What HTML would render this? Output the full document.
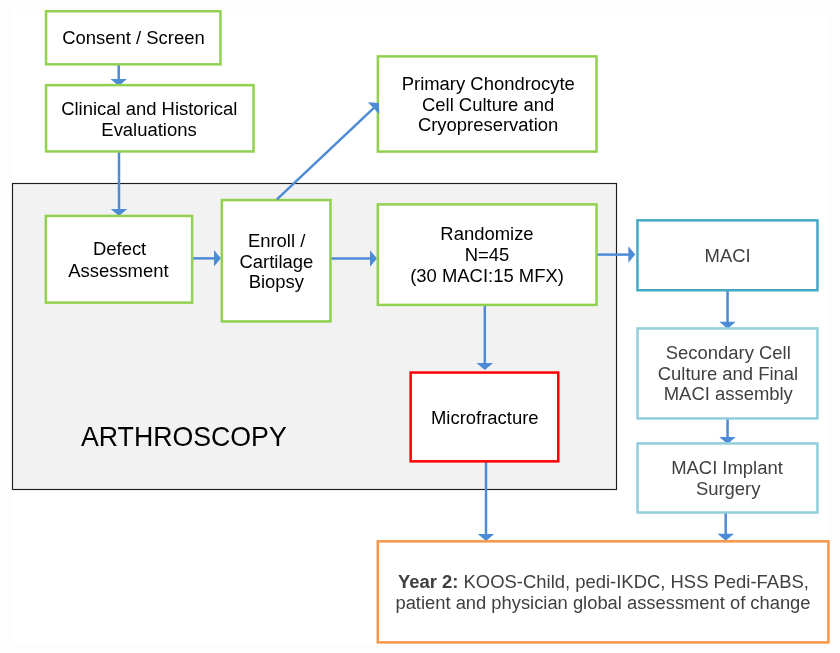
<!DOCTYPE html>
<html><head><meta charset="utf-8"><title>Study flow</title>
<style>html,body{margin:0;padding:0;background:#fff;} svg{display:block;will-change:transform;} text{font-family:"Liberation Sans",sans-serif;}</style>
</head><body><svg width="840" height="653" viewBox="0 0 840 653" font-family="Liberation Sans, sans-serif"><rect x="0" y="0" width="840" height="653" fill="#FDFDFD"/><rect x="12" y="10" width="818.3" height="634.3" fill="#FFFFFF"/><rect x="12.5" y="183.5" width="604" height="306" fill="#F2F2F2" stroke="#1E1E1E" stroke-width="1.15"/><line x1="118.70" y1="64.00" x2="118.70" y2="79.40" stroke="#4E8BD6" stroke-width="2.5"/><polygon points="118.70,85.90 110.45,78.90 126.95,78.90" fill="#4E8BD6"/><line x1="119.00" y1="151.00" x2="119.00" y2="209.40" stroke="#4E8BD6" stroke-width="2.5"/><polygon points="119.00,215.90 110.75,208.90 127.25,208.90" fill="#4E8BD6"/><line x1="192.00" y1="258.35" x2="214.50" y2="258.35" stroke="#4E8BD6" stroke-width="2.5"/><polygon points="221.00,258.35 214.00,266.60 214.00,250.10" fill="#4E8BD6"/><line x1="330.50" y1="258.50" x2="370.50" y2="258.50" stroke="#4E8BD6" stroke-width="2.5"/><polygon points="377.00,258.50 370.00,266.75 370.00,250.25" fill="#4E8BD6"/><line x1="597.00" y1="254.60" x2="628.80" y2="254.60" stroke="#4E8BD6" stroke-width="2.5"/><polygon points="635.30,254.60 628.30,262.85 628.30,246.35" fill="#4E8BD6"/><line x1="727.55" y1="290.00" x2="727.55" y2="322.30" stroke="#4E8BD6" stroke-width="2.5"/><polygon points="727.55,328.80 719.30,321.80 735.80,321.80" fill="#4E8BD6"/><line x1="727.55" y1="418.00" x2="727.55" y2="437.50" stroke="#4E8BD6" stroke-width="2.5"/><polygon points="727.55,444.00 719.30,437.00 735.80,437.00" fill="#4E8BD6"/><line x1="725.70" y1="513.00" x2="725.70" y2="534.30" stroke="#4E8BD6" stroke-width="2.5"/><polygon points="725.70,540.80 717.45,533.80 733.95,533.80" fill="#4E8BD6"/><line x1="484.80" y1="304.00" x2="484.80" y2="363.40" stroke="#4E8BD6" stroke-width="2.5"/><polygon points="484.80,369.90 476.55,362.90 493.05,362.90" fill="#4E8BD6"/><line x1="486.00" y1="461.00" x2="486.00" y2="534.40" stroke="#4E8BD6" stroke-width="2.5"/><polygon points="486.00,540.90 477.75,533.90 494.25,533.90" fill="#4E8BD6"/><rect x="46.05" y="11.25" width="174.40" height="53.10" fill="#FFFFFF" stroke="#92D050" stroke-width="2.5"/><rect x="46.05" y="85.15" width="207.50" height="66.30" fill="#FFFFFF" stroke="#92D050" stroke-width="2.5"/><rect x="45.85" y="215.95" width="146.30" height="86.65" fill="#FFFFFF" stroke="#92D050" stroke-width="2.5"/><rect x="221.85" y="200.05" width="108.60" height="121.40" fill="#FFFFFF" stroke="#92D050" stroke-width="2.5"/><rect x="377.85" y="56.40" width="218.65" height="95.15" fill="#FFFFFF" stroke="#92D050" stroke-width="2.5"/><rect x="377.80" y="204.40" width="218.70" height="100.50" fill="#FFFFFF" stroke="#92D050" stroke-width="2.5"/><rect x="637.45" y="220.35" width="180.00" height="69.90" fill="#FFFFFF" stroke="#45A8C5" stroke-width="2.5"/><rect x="637.55" y="328.45" width="179.90" height="90.00" fill="#FFFFFF" stroke="#92CDDC" stroke-width="2.5"/><rect x="637.55" y="443.45" width="179.90" height="69.05" fill="#FFFFFF" stroke="#92CDDC" stroke-width="2.5"/><rect x="410.65" y="372.55" width="147.60" height="88.80" fill="#FFFFFF" stroke="#FF0000" stroke-width="2.5"/><rect x="377.80" y="541.35" width="450.60" height="101.05" fill="#FFFFFF" stroke="#F79646" stroke-width="2.5"/><line x1="276.90" y1="199.40" x2="373.91" y2="107.81" stroke="#4E8BD6" stroke-width="2.5"/><polygon points="379.00,103.00 379.21,114.15 367.88,102.15" fill="#4E8BD6"/><text x="133.50" y="44.00" font-size="18.45" fill="#000000" text-anchor="middle">Consent / Screen</text><text x="149.30" y="115.40" font-size="18.45" fill="#000000" text-anchor="middle">Clinical and Historical</text><text x="149.00" y="136.40" font-size="18.45" fill="#000000" text-anchor="middle">Evaluations</text><text x="488.30" y="89.60" font-size="18.45" fill="#000000" text-anchor="middle">Primary Chondrocyte</text><text x="488.10" y="110.60" font-size="18.45" fill="#000000" text-anchor="middle">Cell Culture and</text><text x="488.10" y="131.10" font-size="18.45" fill="#000000" text-anchor="middle">Cryopreservation</text><text x="119.60" y="255.30" font-size="18.45" fill="#000000" text-anchor="middle">Defect</text><text x="118.40" y="276.50" font-size="18.45" fill="#000000" text-anchor="middle">Assessment</text><text x="276.60" y="247.00" font-size="18.45" fill="#000000" text-anchor="middle">Enroll /</text><text x="276.40" y="267.60" font-size="18.45" fill="#000000" text-anchor="middle">Cartilage</text><text x="276.40" y="288.30" font-size="18.45" fill="#000000" text-anchor="middle">Biopsy</text><text x="487.00" y="239.90" font-size="18.45" fill="#000000" text-anchor="middle">Randomize</text><text x="487.00" y="260.80" font-size="18.45" fill="#000000" text-anchor="middle">N=45</text><text x="487.00" y="282.00" font-size="18.45" fill="#000000" text-anchor="middle">(30 MACI:15 MFX)</text><text x="727.60" y="261.90" font-size="18.45" fill="#404040" text-anchor="middle">MACI</text><text x="728.30" y="358.60" font-size="18.45" fill="#404040" text-anchor="middle">Secondary Cell</text><text x="728.00" y="379.60" font-size="18.45" fill="#404040" text-anchor="middle">Culture and Final</text><text x="728.30" y="400.40" font-size="18.45" fill="#404040" text-anchor="middle">MACI assembly</text><text x="727.00" y="474.20" font-size="18.45" fill="#404040" text-anchor="middle">MACI Implant</text><text x="728.20" y="495.00" font-size="18.45" fill="#404040" text-anchor="middle">Surgery</text><text x="484.80" y="423.60" font-size="18.45" fill="#000000" text-anchor="middle">Microfracture</text><text transform="translate(81.00,445.80) scale(1,1.05)" x="0" y="0" font-size="26.72" fill="#000000" text-anchor="start">ARTHROSCOPY</text><text x="603.40" y="588.00" font-size="18.45" fill="#404040" text-anchor="middle"><tspan font-weight="bold">Year 2:</tspan> KOOS-Child, pedi-IKDC, HSS Pedi-FABS,</text><text x="603.00" y="608.60" font-size="18.35" fill="#404040" text-anchor="middle">patient and physician global assessment of change</text></svg></body></html>
